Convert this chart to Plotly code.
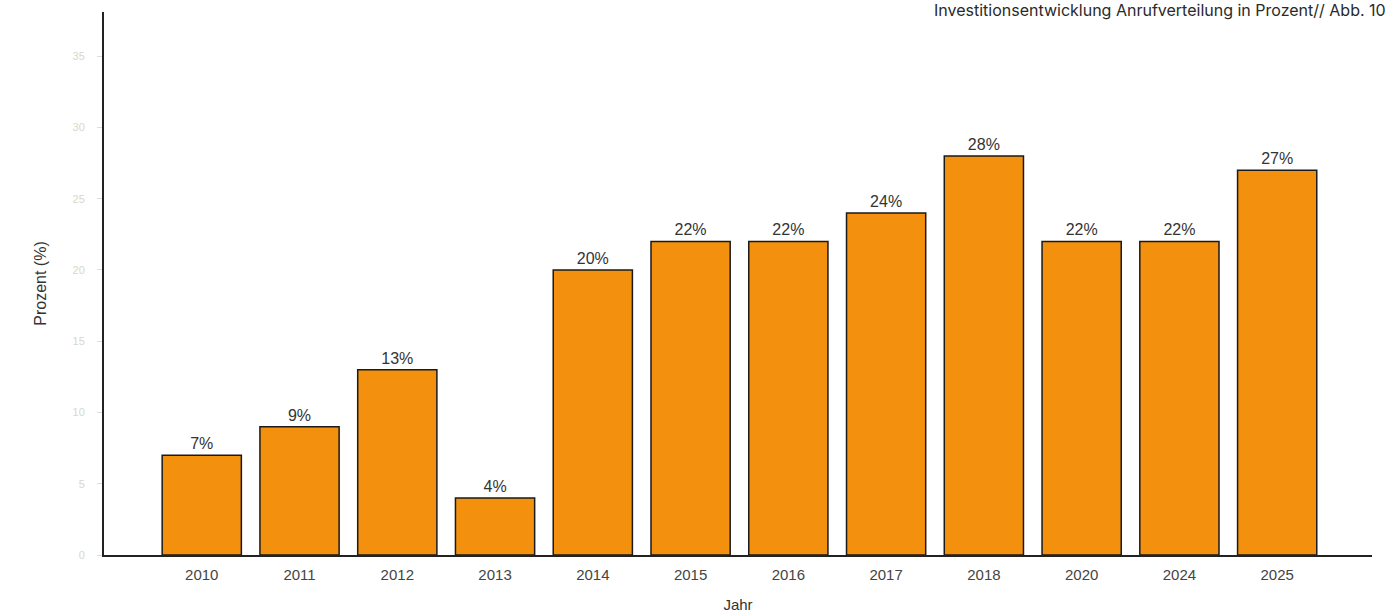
import plotly.graph_objects as go

# Investment share per year (percent)
jahre = ["2010", "2011", "2012", "2013", "2014", "2015", "2016", "2017", "2018", "2020", "2024", "2025"]
prozent = [7, 9, 13, 4, 20, 22, 22, 24, 28, 22, 22, 27]
y_ticks = [0, 5, 10, 15, 20, 25, 30, 35]

fig = go.Figure(
    go.Bar(
        x=jahre,
        y=prozent,
        marker=dict(color="#F3900E", line=dict(color="#1a1a1a", width=1.5)),
        width=0.81,
        text=[f"{v}%" for v in prozent],
        textposition="outside",
        textfont=dict(family="Liberation Sans, Arial, sans-serif", size=16, color="#333333"),
        cliponaxis=False,
    )
)

fig.update_layout(
    width=1398,
    height=616,
    margin=dict(l=104, r=26, t=12, b=61),
    paper_bgcolor="white",
    plot_bgcolor="white",
    showlegend=False,
    font=dict(family="Liberation Sans, Arial, sans-serif", color="#333333"),
)

fig.update_xaxes(
    type="category",
    range=[-1, 11.97],
    automargin=False,
    showline=True,
    linecolor="#222222",
    linewidth=2,
    ticks="",
    showgrid=False,
    ticklabelstandoff=5,
    tickfont=dict(size=15, color="#444444"),
    title=dict(text="Jahr", font=dict(size=15, color="#333333"), standoff=17),
)

fig.update_yaxes(
    range=[0, 38.1],
    tickvals=y_ticks,
    automargin=False,
    showline=True,
    linecolor="#222222",
    linewidth=2,
    ticks="outside",
    ticklen=5,
    tickcolor="#dddddd",
    showgrid=False,
    zeroline=False,
    ticklabelstandoff=10,
    tickfont=dict(size=11, color="#d8d8c8"),
    title=dict(text="Prozent (%)", font=dict(size=16, color="#333333"), standoff=22),
)

fig.add_annotation(
    text="Investitionsentwicklung Anrufverteilung in Prozent// Abb. 10",
    xref="paper", yref="paper",
    x=1.0, y=1.0,
    xshift=16, yshift=2,
    xanchor="right", yanchor="middle",
    showarrow=False,
    font=dict(family="Inter, Lato, sans-serif", size=16, color="#2a2a2a"),
)

fig.write_html("out.html")
